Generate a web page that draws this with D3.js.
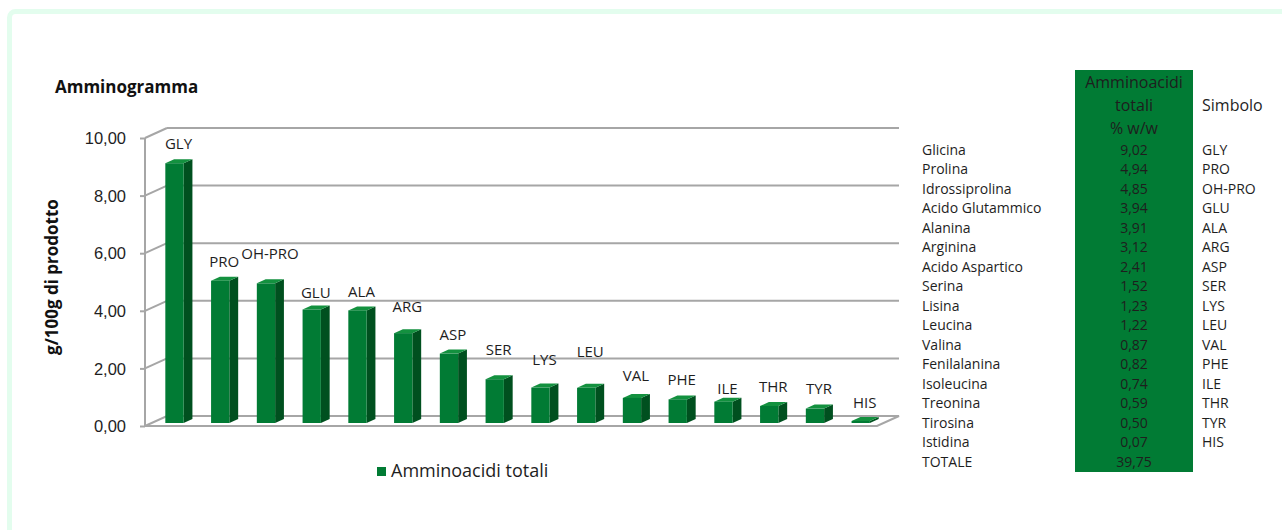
<!DOCTYPE html>
<html>
<head>
<meta charset="utf-8">
<script src="https://cdn.jsdelivr.net/npm/d3@7"></script>
<style>
  body { margin: 0; background: #fff; }
  svg { font-family: "Open Sans", Lato, sans-serif; }
</style>
</head>
<body>
<svg id="chart" width="1282" height="530"></svg>
<script>
//////////////////////////////////////////////////////////////
///////////////////////// Data ///////////////////////////////
//////////////////////////////////////////////////////////////

var names = ["Glicina", "Prolina", "Idrossiprolina", "Acido Glutammico", "Alanina", "Arginina",
    "Acido Aspartico", "Serina", "Lisina", "Leucina", "Valina", "Fenilalanina", "Isoleucina",
    "Treonina", "Tirosina", "Istidina"];
var symbols = ["GLY", "PRO", "OH-PRO", "GLU", "ALA", "ARG", "ASP", "SER", "LYS", "LEU",
    "VAL", "PHE", "ILE", "THR", "TYR", "HIS"];
var values = [9.02, 4.94, 4.85, 3.94, 3.91, 3.12, 2.41, 1.52, 1.23, 1.22, 0.87, 0.82, 0.74, 0.59, 0.50, 0.07];
var totalLabel = "TOTALE";
var totalValue = "39,75";
var yTicks = [0, 2, 4, 6, 8, 10];

// Excel moved some labels to avoid overlap (extra vertical shift, px)
var labelShift = [0, 0, -10, 2, 1, -7, 0, -10, -9, -17, -3, 0, 6, 0, -1, 1];

//////////////////////////////////////////////////////////////
//////////////////////// Settings ////////////////////////////
//////////////////////////////////////////////////////////////

var green = "#017b34", greenSide = "#00501f", greenTop = "#13913f";
var gridColor = "#a6a6a6";
var textColor = "#1e1e1e";
var fmt = function(v) { return d3.format(".2f")(v).replace(".", ","); };

// 3D depth offset of the back wall
var depthX = 22, depthY = -10;

var svg = d3.select("#chart");

// outer mint frame
svg.append("rect")
    .attr("x", 9.5).attr("y", 11.5)
    .attr("width", 1290).attr("height", 540)
    .attr("rx", 6)
    .attr("fill", "none")
    .attr("stroke", "#e3fdee")
    .attr("stroke-width", 5);

//////////////////////////////////////////////////////////////
///////////////////// Scales & Axes //////////////////////////
//////////////////////////////////////////////////////////////

var xScale = d3.scaleBand()
    .domain(symbols)
    .range([145, 877])
    .paddingInner(0.6)
    .paddingOuter(0.3);

var yScale = d3.scaleLinear().domain([0, 10]).range([426, 138]);

var chart = svg.append("g").attr("class", "chart");

// floor
var x0 = xScale.range()[0], x1 = xScale.range()[1], yBase = yScale(0);
chart.append("path")
    .attr("d", "M" + x0 + "," + yBase + "L" + x1 + "," + yBase +
        "L" + (x1 + depthX) + "," + (yBase + depthY) + "L" + (x0 + depthX) + "," + (yBase + depthY) + "Z")
    .attr("fill", "#fff")
    .attr("stroke", gridColor)
    .attr("stroke-width", 2);

// back wall gridlines + side wall diagonals
var grid = chart.selectAll(".grid")
    .data(yTicks.filter(function(d) { return d > 0; })).enter()
    .append("g").attr("class", "grid");

grid.append("line")
    .attr("x1", x0 + depthX).attr("x2", x1 + depthX)
    .attr("y1", function(d) { return yScale(d) + depthY; })
    .attr("y2", function(d) { return yScale(d) + depthY; })
    .attr("stroke", gridColor).attr("stroke-width", 2);

grid.append("line")
    .attr("x1", x0).attr("x2", x0 + depthX)
    .attr("y1", function(d) { return yScale(d); })
    .attr("y2", function(d) { return yScale(d) + depthY; })
    .attr("stroke", gridColor).attr("stroke-width", 2);

// y axis (front edge)
var yAxis = d3.axisLeft(yScale).tickValues(yTicks).tickSize(5).tickFormat(fmt);
var gy = chart.append("g")
    .attr("transform", "translate(" + x0 + ",0)")
    .call(yAxis);
gy.select(".domain").attr("stroke", gridColor).attr("stroke-width", 2)
    .attr("d", "M0," + yScale(10) + "V" + yScale(0));
gy.selectAll(".tick line").attr("stroke", gridColor).attr("stroke-width", 2);
gy.selectAll(".tick text")
    .attr("x", -19)
    .attr("dy", "0.35em")
    .style("font-size", "16.5px")
    .style("fill", textColor);

// axis title
chart.append("text")
    .attr("transform", "translate(58," + 277 + ") rotate(-90)")
    .attr("text-anchor", "middle")
    .style("font-size", "17px")
    .style("font-weight", "bold")
    .style("fill", "#111")
    .text("g/100g di prodotto");

// chart title
svg.append("text")
    .attr("x", 55).attr("y", 93)
    .style("font-size", "17px")
    .style("font-weight", "bold")
    .style("fill", "#111")
    .text("Amminogramma");

//////////////////////////////////////////////////////////////
///////////////////////// Bars ///////////////////////////////
//////////////////////////////////////////////////////////////

var bw = xScale.bandwidth();
var fx = 0.3 * depthX, fy = 0.3 * depthY;       // front face depth
var sx = 0.4 * depthX, sy = 0.4 * depthY;       // bar depth

var bars = chart.selectAll(".bar")
    .data(values).enter()
    .append("g").attr("class", "bar")
    .attr("transform", function(d, i) { return "translate(" + (xScale(symbols[i]) + fx) + "," + fy + ")"; });

// side face
bars.append("path")
    .attr("d", function(d) {
        var t = yScale(d), b = yScale(0);
        return "M" + bw + "," + b + "L" + bw + "," + t + "L" + (bw + sx) + "," + (t + sy) +
            "L" + (bw + sx) + "," + (b + sy) + "Z";
    })
    .attr("fill", greenSide);

// top face
bars.append("path")
    .attr("d", function(d) {
        var t = yScale(d);
        return "M0," + t + "L" + bw + "," + t + "L" + (bw + sx) + "," + (t + sy) +
            "L" + sx + "," + (t + sy) + "Z";
    })
    .attr("fill", greenTop);

// front face
bars.append("rect")
    .attr("x", 0)
    .attr("y", function(d) { return yScale(d); })
    .attr("width", bw)
    .attr("height", function(d) { return yScale(0) - yScale(d); })
    .attr("fill", green);

// labels
bars.append("text")
    .attr("x", bw / 2 + 4)
    .attr("y", function(d, i) { return yScale(d) - 14 + labelShift[i]; })
    .attr("text-anchor", "middle")
    .style("font-size", "15px")
    .style("fill", textColor)
    .text(function(d, i) { return symbols[i]; });

//////////////////////////////////////////////////////////////
//////////////////////// Legend //////////////////////////////
//////////////////////////////////////////////////////////////

svg.append("rect")
    .attr("x", 377).attr("y", 467)
    .attr("width", 9).attr("height", 9)
    .attr("fill", green);
svg.append("text")
    .attr("x", 391).attr("y", 477)
    .style("font-size", "18px")
    .style("fill", textColor)
    .text("Amminoacidi totali");

//////////////////////////////////////////////////////////////
///////////////////////// Table //////////////////////////////
//////////////////////////////////////////////////////////////

var rowY = d3.scaleLinear().domain([0, 1]).range([150, 169.5]);
var table = svg.append("g").attr("class", "table").style("font-size", "14px").style("fill", textColor);

table.append("rect")
    .attr("x", 1075).attr("y", 70)
    .attr("width", 118).attr("height", 402)
    .attr("fill", green);

table.selectAll(".hdr")
    .data(["Amminoacidi", "totali", "% w/w"]).enter()
    .append("text")
    .attr("x", 1134)
    .attr("y", function(d, i) { return 82 + i * 23; })
    .attr("dy", "0.35em")
    .attr("text-anchor", "middle")
    .style("font-size", "16px")
    .text(function(d) { return d; });

table.append("text")
    .attr("x", 1202).attr("y", 105).attr("dy", "0.35em")
    .style("font-size", "16px")
    .text("Simbolo");

var rows = table.selectAll(".row")
    .data(values).enter()
    .append("g").attr("class", "row")
    .attr("transform", function(d, i) { return "translate(0," + rowY(i) + ")"; });

rows.append("text").attr("x", 922).attr("dy", "0.35em").text(function(d, i) { return names[i]; });
rows.append("text").attr("x", 1134).attr("dy", "0.35em").attr("text-anchor", "middle").text(fmt);
rows.append("text").attr("x", 1202).attr("dy", "0.35em").text(function(d, i) { return symbols[i]; });

var totalRow = table.append("g").attr("transform", "translate(0," + rowY(values.length) + ")");
totalRow.append("text").attr("x", 922).attr("dy", "0.35em").text(totalLabel);
totalRow.append("text").attr("x", 1134).attr("dy", "0.35em").attr("text-anchor", "middle").text(totalValue);
</script>
</body>
</html>
